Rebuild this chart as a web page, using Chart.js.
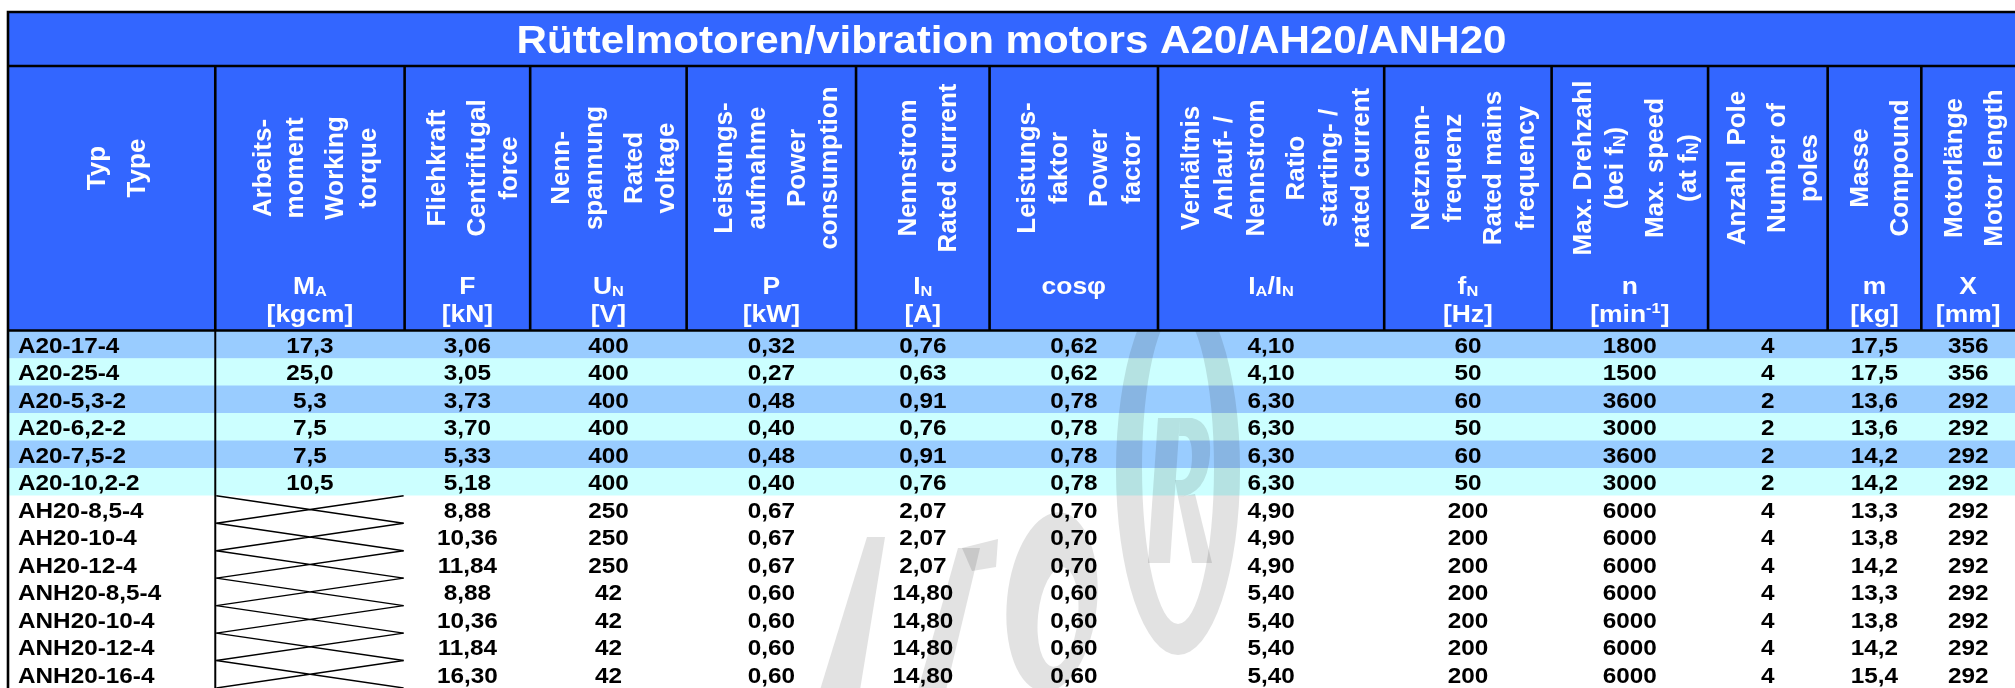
<!DOCTYPE html>
<html>
<head>
<meta charset="UTF-8">
<title>Rüttelmotoren A20/AH20/ANH20</title>
<script src="https://cdn.jsdelivr.net/npm/chart.js"></script>
<style>
  body { margin: 0; background: #fff; }
  canvas { display: block; }
</style>
</head>
<body>
<canvas id="motorTable" width="2015" height="688"></canvas>
<script>
var title = 'Rüttelmotoren/vibration motors A20/AH20/ANH20';

// one entry per motor (row)
var types = ['A20-17-4', 'A20-25-4', 'A20-5,3-2', 'A20-6,2-2', 'A20-7,5-2', 'A20-10,2-2',
             'AH20-8,5-4', 'AH20-10-4', 'AH20-12-4',
             'ANH20-8,5-4', 'ANH20-10-4', 'ANH20-12-4', 'ANH20-16-4'];
var torque      = [17.3, 25.0, 5.3, 7.5, 7.5, 10.5, null, null, null, null, null, null, null];
var force       = [3.06, 3.05, 3.73, 3.70, 5.33, 5.18, 8.88, 10.36, 11.84, 8.88, 10.36, 11.84, 16.30];
var voltage     = [400, 400, 400, 400, 400, 400, 250, 250, 250, 42, 42, 42, 42];
var power       = [0.32, 0.27, 0.48, 0.40, 0.48, 0.40, 0.67, 0.67, 0.67, 0.60, 0.60, 0.60, 0.60];
var current     = [0.76, 0.63, 0.91, 0.76, 0.91, 0.76, 2.07, 2.07, 2.07, 14.80, 14.80, 14.80, 14.80];
var cosPhi      = [0.62, 0.62, 0.78, 0.78, 0.78, 0.78, 0.70, 0.70, 0.70, 0.60, 0.60, 0.60, 0.60];
var startRatio  = [4.10, 4.10, 6.30, 6.30, 6.30, 6.30, 4.90, 4.90, 4.90, 5.40, 5.40, 5.40, 5.40];
var frequency   = [60, 50, 60, 50, 60, 50, 200, 200, 200, 200, 200, 200, 200];
var speed       = [1800, 1500, 3600, 3000, 3600, 3000, 6000, 6000, 6000, 6000, 6000, 6000, 6000];
var poles       = [4, 4, 2, 2, 2, 2, 4, 4, 4, 4, 4, 4, 4];
var mass        = [17.5, 17.5, 13.6, 13.6, 14.2, 14.2, 13.3, 13.8, 14.2, 13.3, 13.8, 14.2, 15.4];
var motorLength = [356, 356, 292, 292, 292, 292, 292, 292, 292, 292, 292, 292, 292];

var valueColumns = [torque, force, voltage, power, current, cosPhi, startRatio, frequency, speed, poles, mass, motorLength];
var decimals     = [1, 2, 0, 2, 2, 2, 2, 0, 0, 0, 1, 0];

// column headings: german lines, english lines, symbol, unit (_x = subscript, ^x = superscript)
var headDe = [['Typ'], ['Arbeits-', 'moment'], ['Fliehkraft'], ['Nenn-', 'spannung'], ['Leistungs-', 'aufnahme'],
              ['Nennstrom'], ['Leistungs-', 'faktor'], ['Verhältnis', 'Anlauf- /', 'Nennstrom'],
              ['Netznenn-', 'frequenz'], ['Max. Drehzahl', '(bei f_N)'], ['Anzahl  Pole'], ['Masse'], ['Motorlänge']];
var headEn = [['Type'], ['Working', 'torque'], ['Centrifugal', 'force'], ['Rated', 'voltage'], ['Power', 'consumption'],
              ['Rated current'], ['Power', 'factor'], ['Ratio', 'starting- /', 'rated current'],
              ['Rated mains', 'frequency'], ['Max. speed', '(at f_N)'], ['Number of', 'poles'], ['Compound'], ['Motor length']];
var symbols = ['', 'M_A', 'F', 'U_N', 'P', 'I_N', 'cosφ', 'I_A/I_I_N', 'f_N', 'n', '', 'm', 'X'];
symbols[7] = 'I_A/I_N';
var units   = ['', '[kgcm]', '[kN]', '[V]', '[kW]', '[A]', '', '', '[Hz]', '[min^-1]', '', '[kg]', '[mm]'];

// layout (px)
var colWidths = [208, 190, 126, 157, 170, 134, 169, 227, 168, 157, 120, 94, 94];
var colEdges = [0];
colWidths.forEach(function (w, i) { colEdges.push(colEdges[i] + w); });
var tableWidth = colEdges[colEdges.length - 1];

var FONT = '"Liberation Sans", Arial, Helvetica, sans-serif';
var SX = 1.08;
var HEAD_BLUE = '#3366FF';

function fmt(v, d) { return v.toFixed(d).replace('.', ','); }

function parseRich(s) {
    var out = [], re = /_(\w)|\^(-?\d+)/g, last = 0, m;
    while ((m = re.exec(s))) {
        if (m.index > last) out.push({ t: s.slice(last, m.index), k: 0 });
        if (m[1]) out.push({ t: m[1], k: 1 }); else out.push({ t: m[2], k: 2 });
        last = re.lastIndex;
    }
    if (last < s.length) out.push({ t: s.slice(last), k: 0 });
    return out;
}

function drawRich(ctx, s, x, y, size, sx, rotated) {
    var parts = parseRich(s);
    var fonts = ['bold ' + size + 'px ' + FONT, 'bold ' + (size * 0.62).toFixed(1) + 'px ' + FONT];
    var shift = [0, size * 0.07, -size * 0.36];
    var widths = parts.map(function (p) { ctx.font = fonts[p.k ? 1 : 0]; return ctx.measureText(p.t).width; });
    var total = widths.reduce(function (a, b) { return a + b; }, 0);
    ctx.save();
    ctx.translate(x, y);
    if (rotated) ctx.rotate(-Math.PI / 2);
    ctx.scale(sx, 1);
    ctx.textAlign = 'left';
    ctx.textBaseline = 'alphabetic';
    var cx = -total / 2;
    parts.forEach(function (p, i) {
        ctx.font = fonts[p.k ? 1 : 0];
        ctx.fillText(p.t, cx, (rotated ? size * 0.36 : 0) + shift[p.k]);
        cx += widths[i];
    });
    ctx.restore();
}

function poly(ctx, pts) {
    ctx.beginPath();
    pts.forEach(function (p, i) { if (i) ctx.lineTo(p[0], p[1]); else ctx.moveTo(p[0], p[1]); });
    ctx.closePath();
    ctx.fill();
}

// faint logo watermark behind the rows
function drawWatermark(ctx) {
    ctx.save();
    ctx.globalCompositeOperation = 'multiply';
    ctx.fillStyle = 'rgb(226,226,226)';
    poly(ctx, [[820, 690], [860, 690], [885, 537], [867, 537]]);
    poly(ctx, [[918, 690], [946, 690], [980, 548], [958, 548]]);
    poly(ctx, [[962, 548], [998, 539], [996, 567], [972, 571]]);
    ctx.beginPath();
    ctx.ellipse(1052, 602, 45, 90, 0.1, 0, Math.PI * 2);
    ctx.ellipse(1058, 617, 20, 50, 0.1, 0, Math.PI * 2);
    ctx.fill('evenodd');
    ctx.beginPath();
    ctx.ellipse(1178, 470, 62, 185, 0, 0, Math.PI * 2);
    ctx.ellipse(1178, 468, 36, 156, 0, 0, Math.PI * 2);
    ctx.fill('evenodd');
    poly(ctx, [[1148, 563], [1170, 563], [1180, 418], [1158, 418]]);
    ctx.beginPath();
    ctx.moveTo(1180, 418); ctx.lineTo(1192, 418);
    ctx.quadraticCurveTo(1212, 422, 1210, 455);
    ctx.quadraticCurveTo(1207, 495, 1178, 497);
    ctx.lineTo(1175, 480); ctx.lineTo(1182, 480);
    ctx.quadraticCurveTo(1192, 478, 1192, 456);
    ctx.quadraticCurveTo(1192, 436, 1184, 436);
    ctx.lineTo(1179, 436);
    ctx.closePath();
    ctx.fill();
    poly(ctx, [[1178, 497], [1195, 494], [1212, 563], [1192, 563]]);
    ctx.restore();
}

var tablePlugin = {
    id: 'motorTable',
    afterDatasetsDraw: function (chart) {
        var ctx = chart.ctx, area = chart.chartArea;
        var xs = chart.scales.x, ys = chart.scales.y;
        var px = function (u) { return xs.getPixelForValue(u); };
        var band = ys.getPixelForValue(1) - ys.getPixelForValue(0);
        var left = px(0), right = px(tableWidth);

        ctx.save();
        ctx.beginPath();
        ctx.rect(area.left, area.top, area.right - area.left, area.bottom - area.top);
        ctx.clip();
        drawWatermark(ctx);
        ctx.restore();

        ctx.save();
        // crossed-out cells where there is no value
        ctx.strokeStyle = '#000';
        ctx.lineWidth = 1.4;
        torque.forEach(function (v, i) {
            if (v !== null) return;
            var yc = ys.getPixelForValue(i), x1 = px(colEdges[1]) + 1, x2 = px(colEdges[2]) - 1;
            ctx.beginPath();
            ctx.moveTo(x1, yc - band / 2); ctx.lineTo(x2, yc + band / 2);
            ctx.moveTo(x1, yc + band / 2); ctx.lineTo(x2, yc - band / 2);
            ctx.stroke();
        });

        // cell texts
        ctx.fillStyle = '#000';
        ctx.font = 'bold 22.5px ' + FONT;
        types.forEach(function (t, i) {
            var yb = ys.getPixelForValue(i) + 8.3;
            ctx.save();
            ctx.translate(left + 10, yb);
            ctx.scale(SX, 1);
            ctx.textAlign = 'left';
            ctx.fillText(t, 0, 0);
            ctx.restore();
            valueColumns.forEach(function (col, c) {
                if (col[i] === null) return;
                var xc = px(colEdges[c + 1] + colWidths[c + 1] / 2);
                ctx.save();
                ctx.translate(xc, yb);
                ctx.scale(SX, 1);
                ctx.textAlign = 'center';
                ctx.fillText(fmt(col[i], decimals[c]), 0, 0);
                ctx.restore();
            });
        });

        // title and header block
        var top = 12, titleBottom = 66, headBottom = area.top;
        ctx.fillStyle = HEAD_BLUE;
        ctx.fillRect(left, top, right - left, headBottom - top);
        ctx.fillStyle = '#fff';
        drawRich(ctx, title, (left + right) / 2, 53.3, 39, SX, false);

        colWidths.forEach(function (w, c) {
            var xc = px(colEdges[c] + w / 2);
            var lines = headDe[c].concat(headEn[c]);
            var offs = [0];
            for (var k = 1; k < lines.length; k++) {
                offs.push(offs[k - 1] + (k === headDe[c].length ? 40 : 32.5));
            }
            var mid = offs[offs.length - 1] / 2;
            lines.forEach(function (ln, k) {
                drawRich(ctx, ln, xc + 4 + offs[k] - mid, 168, 26, 1, true);
            });
            if (symbols[c]) drawRich(ctx, symbols[c], xc, 294, 24.5, SX, false);
            if (units[c]) drawRich(ctx, units[c], xc, 321.5, 24.5, SX, false);
        });

        // rules
        ctx.strokeStyle = '#000';
        ctx.lineWidth = 2.6;
        ctx.beginPath();
        ctx.moveTo(left - 1.3, top); ctx.lineTo(right, top);
        ctx.moveTo(left, titleBottom); ctx.lineTo(right, titleBottom);
        ctx.moveTo(left, headBottom - 0.5); ctx.lineTo(right, headBottom - 0.5);
        ctx.moveTo(left, top); ctx.lineTo(left, chart.height);
        for (var e = 1; e < colEdges.length - 1; e++) {
            ctx.moveTo(px(colEdges[e]), titleBottom); ctx.lineTo(px(colEdges[e]), headBottom);
        }
        ctx.stroke();
        ctx.lineWidth = 2;
        ctx.beginPath();
        ctx.moveTo(px(colEdges[1]), headBottom); ctx.lineTo(px(colEdges[1]), chart.height);
        ctx.stroke();
        ctx.restore();
    }
};

var rowColors = types.map(function (t, i) {
    if (i < 6) return i % 2 ? '#CCFFFF' : '#99CCFF';
    return '#FFFFFF';
});

var ctx = document.getElementById('motorTable').getContext('2d');
var motorChart = new Chart(ctx, {
    type: 'bar',
    data: {
        labels: types,
        datasets: [{
            label: 'rows',
            data: types.map(function () { return [0, tableWidth]; }),
            backgroundColor: rowColors,
            borderWidth: 0,
            barPercentage: 1,
            categoryPercentage: 1
        }]
    },
    options: {
        indexAxis: 'y',
        responsive: false,
        animation: false,
        devicePixelRatio: 1,
        events: [],
        layout: { padding: { top: 331, left: 8, right: -7, bottom: -2 } },
        plugins: { legend: { display: false }, tooltip: { enabled: false } },
        scales: {
            x: { type: 'linear', min: 0, max: tableWidth, display: false },
            y: { type: 'category', display: false, offset: true }
        }
    },
    plugins: [tablePlugin]
});
</script>
</body>
</html>
